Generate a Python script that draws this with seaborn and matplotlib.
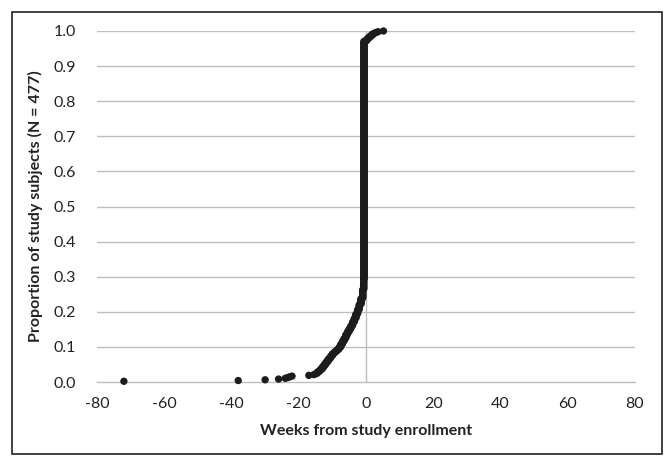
import numpy as np
import pandas as pd
import matplotlib
matplotlib.use("Agg")
import matplotlib.pyplot as plt
import seaborn as sns
from matplotlib.patches import Rectangle

# Distinct values (weeks from enrollment) and number of subjects at each value
weeks = [-72, -38, -30, -26, -24, -23.3, -22.7, -22, -17, -15.5, -15, -14.5, -14,
         -13.5, -13, -12.5, -12, -11.5, -11, -10.5, -10, -9.5, -9, -8.5, -8, -7.5,
         -7, -6.5, -6, -5.5, -5, -4.5, -4, -3.5, -3, -2.5, -2, -1.5, -1, -0.7, -0.6,
         0.2, 0.5, 1.0, 1.5, 2.0, 2.5, 3.0, 3.6, 5.2]
counts = [1, 1, 1, 1, 1, 1, 1, 1, 1, 1, 1, 2, 2,
          2, 3, 3, 3, 3, 3, 3, 3, 2, 2, 2, 3, 4,
          4, 4, 5, 4, 4, 4, 5, 5, 6, 6, 7, 8, 12, 14, 324,
          2, 2, 2, 2, 2, 1, 1, 1, 1]
n_subjects = 477
x_ticks = [-80, -60, -40, -20, 0, 20, 40, 60, 80]
y_ticks = [0.0, 0.1, 0.2, 0.3, 0.4, 0.5, 0.6, 0.7, 0.8, 0.9, 1.0]

x_vals = np.repeat(weeks, counts)
y_vals = np.arange(1, len(x_vals) + 1) / n_subjects
df = pd.DataFrame({"weeks": x_vals, "prop": y_vals})

sns.set_style("white")
plt.rcParams["font.family"] = ["Lato", "DejaVu Sans"]

fig = plt.figure(figsize=(6.71, 4.67), dpi=100)
ax = fig.add_axes([97 / 671, 1 - 382 / 467, (635 - 97) / 671, (382 - 31) / 467])

grid_c = "#bdbdbd"
for yt in y_ticks[1:]:
    ax.axhline(yt, color=grid_c, lw=1.0, zorder=0)
ax.axvline(0, color=grid_c, lw=1.0, zorder=0)

sns.scatterplot(data=df, x="weeks", y="prop", ax=ax, color="#1c1c1c",
                s=28, linewidth=0, edgecolor="none", zorder=3, clip_on=False)

ax.set_xlim(-80, 80)
ax.set_ylim(0, 1.0)
ax.set_xticks(x_ticks)
ax.set_xticklabels([str(t) for t in x_ticks])
ax.set_yticks(y_ticks)
ax.set_yticklabels([f"{t:.1f}" for t in y_ticks])

for side in ["top", "right", "left"]:
    ax.spines[side].set_visible(False)
ax.spines["bottom"].set_color(grid_c)
ax.spines["bottom"].set_linewidth(1.0)

ax.tick_params(axis="x", direction="inout", length=6, width=1.0, color=grid_c,
               labelsize=11.5, labelcolor="#222222", pad=8)
ax.tick_params(axis="y", length=0, labelsize=11.5, labelcolor="#222222", pad=15)

ax.set_xlabel("Weeks from study enrollment", fontsize=11.5, fontweight="bold",
              color="#222222", labelpad=9)
ax.set_ylabel("Proportion of study subjects (N = 477)", fontsize=11.5,
              fontweight="bold", color="#222222", labelpad=8)

fig.patches.append(Rectangle((12 / 671, 1 - 454 / 467), (662 - 12) / 671,
                             (454 - 12) / 467, transform=fig.transFigure,
                             fill=False, edgecolor="#333333", linewidth=1.3))

fig.savefig("out.png", dpi=100, facecolor="white")
